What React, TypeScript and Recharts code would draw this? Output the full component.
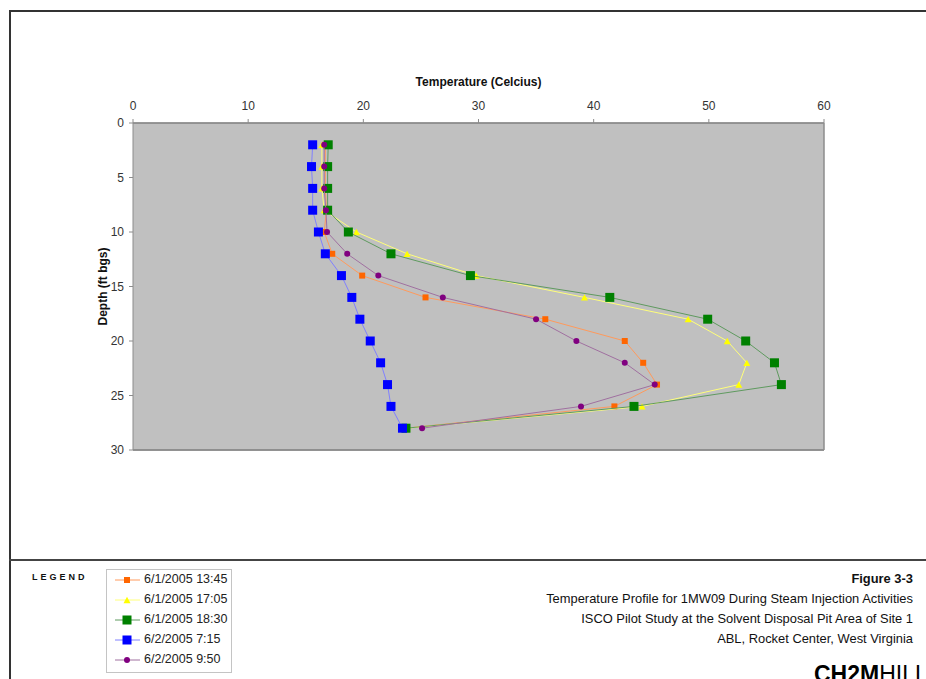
import {
    ScatterChart,
    Scatter,
    XAxis,
    YAxis,
    CartesianGrid,
    ReferenceLine,
} from "recharts";

// depth below ground surface (ft bgs)
const depths = [2, 4, 6, 8, 10, 12, 14, 16, 18, 20, 22, 24, 26, 28];

// temperature readings (Celcius) per event
const temp0601_1345 = [16.7, 16.7, 16.7, 16.8, 16.6, 17.3, 19.9, 25.4, 35.8, 42.7, 44.3, 45.5, 41.8, 23.7];
const temp0601_1705 = [16.4, 16.4, 16.4, 16.6, 19.4, 23.8, 29.8, 39.2, 48.2, 51.6, 53.3, 52.6, 44.2, 23.8];
const temp0601_1830 = [16.95, 16.9, 16.9, 16.9, 18.7, 22.4, 29.3, 41.4, 49.9, 53.2, 55.7, 56.3, 43.5, 23.7];
const temp0602_0715 = [15.6, 15.5, 15.6, 15.6, 16.1, 16.7, 18.1, 19.0, 19.7, 20.6, 21.5, 22.1, 22.4, 23.4];
const temp0602_0950 = [16.6, 16.6, 16.6, 16.75, 16.85, 18.6, 21.3, 26.9, 35.0, 38.5, 42.7, 45.3, 38.9, 25.1];

const tempTicks = [0, 10, 20, 30, 40, 50, 60];
const depthTicks = [0, 5, 10, 15, 20, 25, 30];

const footerLines = [
    "Temperature Profile for 1MW09 During Steam Injection Activities",
    "ISCO Pilot Study at the Solvent Disposal Pit Area of Site 1",
    "ABL, Rocket Center, West Virginia",
];

type MarkerKind = "square" | "triangle" | "circle";

interface SeriesDef {
    name: string;
    temps: number[];
    color: string;
    lineColor: string;
    kind: MarkerKind;
    size: number;
}

const series: SeriesDef[] = [
    { name: "6/1/2005 13:45", temps: temp0601_1345, color: "#ff6600", lineColor: "#ff9a5c", kind: "square", size: 6 },
    { name: "6/1/2005 17:05", temps: temp0601_1705, color: "#ffff00", lineColor: "#ffff7a", kind: "triangle", size: 7 },
    { name: "6/1/2005 18:30", temps: temp0601_1830, color: "#008000", lineColor: "#5f9a5f", kind: "square", size: 9 },
    { name: "6/2/2005 7:15", temps: temp0602_0715, color: "#0000ff", lineColor: "#8080ff", kind: "square", size: 9 },
    { name: "6/2/2005 9:50", temps: temp0602_0950, color: "#800080", lineColor: "#a070a0", kind: "circle", size: 6 },
];

const FONT = "'Liberation Sans', Arial, Helvetica, sans-serif";

function Marker({ kind, color, size, cx, cy }: { kind: MarkerKind; color: string; size: number; cx: number; cy: number }) {
    if (kind === "circle") return <circle cx={cx} cy={cy} r={size / 2} fill={color} />;
    if (kind === "triangle") {
        const h = size * 0.9;
        return (
            <polygon
                points={`${cx},${cy - h / 2} ${cx - size / 2},${cy + h / 2} ${cx + size / 2},${cy + h / 2}`}
                fill={color}
            />
        );
    }
    return <rect x={cx - size / 2} y={cy - size / 2} width={size} height={size} fill={color} />;
}

const LegendBox = () => (
    <div
        style={{
            position: "absolute",
            left: 106,
            top: 569,
            width: 126,
            height: 104,
            border: "1px solid #c4c4c4",
            boxSizing: "border-box",
        }}
    >
        {series.map((s, i) => (
            <div key={s.name} style={{ position: "absolute", left: 0, top: 1 + i * 20, height: 18, width: 125 }}>
                <svg width={32} height={18} style={{ position: "absolute", left: 4, top: 0 }}>
                    <line x1={4} y1={9} x2={29} y2={9} stroke={s.lineColor} strokeWidth={1} />
                    <Marker kind={s.kind} color={s.color} size={s.size} cx={16} cy={9} />
                </svg>
                <span
                    style={{
                        position: "absolute",
                        left: 37,
                        top: 0,
                        fontSize: 12.5,
                        lineHeight: "17px",
                        color: "#222",
                        whiteSpace: "nowrap",
                    }}
                >
                    {s.name}
                </span>
            </div>
        ))}
    </div>
);

export default function App() {
    return (
        <div
            style={{
                position: "absolute",
                left: 0,
                top: 0,
                width: 926,
                height: 679,
                overflow: "hidden",
                background: "#fff",
                fontFamily: FONT,
            }}
        >
            {/* page frame */}
            <div style={{ position: "absolute", left: 9, top: 10, width: 917, height: 2, background: "#333" }} />
            <div style={{ position: "absolute", left: 9, top: 10, width: 2, height: 669, background: "#333" }} />
            <div style={{ position: "absolute", left: 9, top: 559, width: 917, height: 2, background: "#444" }} />

            <ScatterChart
                width={926}
                height={679}
                margin={{ top: 93, right: 102, bottom: 229, left: 73 }}
                style={{ position: "absolute", left: 0, top: 0 }}
            >
                <CartesianGrid
                    vertical={false}
                    fill="#c0c0c0"
                    fillOpacity={1}
                    stroke="#868686"
                    strokeWidth={1.5}
                />
                <XAxis
                    xAxisId="t"
                    type="number"
                    dataKey="temp"
                    orientation="top"
                    domain={[0, 60]}
                    ticks={tempTicks}
                    height={30}
                    tickSize={4}
                    tickMargin={9}
                    stroke="#8c8c8c"
                    tick={{ fontSize: 12, fill: "#333", fontFamily: FONT }}
                    label={{
                        value: "Temperature (Celcius)",
                        position: "top",
                        offset: 7,
                        style: { fontSize: 12, fontWeight: "bold", fill: "#111", fontFamily: FONT },
                    }}
                />
                <YAxis
                    yAxisId="d"
                    type="number"
                    dataKey="depth"
                    reversed
                    domain={[0, 30]}
                    ticks={depthTicks}
                    width={60}
                    tickSize={4}
                    tickMargin={5}
                    stroke="#8c8c8c"
                    tick={{ fontSize: 12, fill: "#333", fontFamily: FONT }}
                    label={{
                        value: "Depth (ft bgs)",
                        angle: -90,
                        position: "center",
                        style: { fontSize: 12, fontWeight: "bold", fill: "#111", fontFamily: FONT, textAnchor: "middle" },
                    }}
                />
                <ReferenceLine xAxisId="t" yAxisId="d" x={60} stroke="#8c8c8c" strokeWidth={1.5} />
                <ReferenceLine xAxisId="t" yAxisId="d" y={30} stroke="#8c8c8c" strokeWidth={1.5} />
                {series.map((s) => (
                    <Scatter
                        key={s.name}
                        name={s.name}
                        xAxisId="t"
                        yAxisId="d"
                        data={s.temps.map((t, i) => ({ temp: t, depth: depths[i] }))}
                        line={{ stroke: s.lineColor, strokeWidth: 1 }}
                        lineType="joint"
                        isAnimationActive={false}
                        shape={(p: any) => <Marker kind={s.kind} color={s.color} size={s.size} cx={p.cx} cy={p.cy} />}
                    />
                ))}
            </ScatterChart>

            <div
                style={{
                    position: "absolute",
                    left: 32,
                    top: 572,
                    fontSize: 9,
                    fontWeight: "bold",
                    letterSpacing: 3,
                    color: "#111",
                }}
            >
                LEGEND
            </div>
            <LegendBox />

            <div style={{ position: "absolute", right: 13, top: 569, textAlign: "right", color: "#111" }}>
                <div style={{ fontSize: 12.9, fontWeight: "bold", lineHeight: "20px" }}>Figure 3-3</div>
                {footerLines.map((l) => (
                    <div key={l} style={{ fontSize: 12.9, lineHeight: "20px", whiteSpace: "nowrap" }}>
                        {l}
                    </div>
                ))}
            </div>
            <div
                style={{
                    position: "absolute",
                    left: 814,
                    top: 661,
                    fontSize: 23,
                    lineHeight: "26px",
                    color: "#000",
                    whiteSpace: "nowrap",
                }}
            >
                <span style={{ fontWeight: 900 }}>CH2M</span>
                <span style={{ fontWeight: "normal" }}>HILL</span>
            </div>
        </div>
    );
}
